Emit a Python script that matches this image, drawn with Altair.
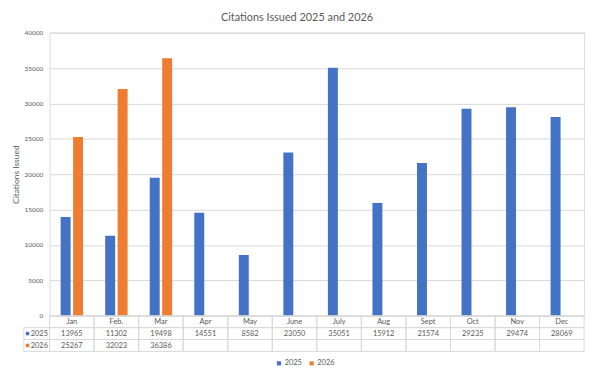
import altair as alt
import pandas as pd

months = ["Jan", "Feb.", "Mar", "Apr", "May", "June", "July", "Aug", "Sept", "Oct", "Nov", "Dec"]
years = ["2025", "2026"]
vals_2025 = [13965, 11302, 19498, 14551, 8582, 23050, 35051, 15912, 21574, 29235, 29474, 28069]
vals_2026 = [25267, 32023, 36386]
y_ticks = [0, 5000, 10000, 15000, 20000, 25000, 30000, 35000, 40000]

BLUE = "#4472C4"
ORANGE = "#ED7D31"
GRID = "#D9D9D9"
TXT = "#595959"
FONT = "Lato"

W, H = 540, 286
ROW = 12

rows = []
for m, v in zip(months, vals_2025):
    rows.append({"month": m, "year": "2025", "value": v})
for m, v in zip(months, vals_2026):
    rows.append({"month": m, "year": "2026", "value": v})
bars_df = pd.DataFrame(rows)

# table cells (one record per month per row, empty text where no value)
cells = []
for i, m in enumerate(months):
    cells.append({"month": m, "row": "m", "text": m})
    cells.append({"month": m, "row": "2025", "text": str(vals_2025[i])})
    cells.append({"month": m, "row": "2026", "text": str(vals_2026[i]) if i < len(vals_2026) else ""})
cells_df = pd.DataFrame(cells)

x_enc = alt.X("month:N", sort=months, axis=None,
              scale=alt.Scale(paddingInner=0, paddingOuter=0))
color_scale = alt.Scale(domain=years, range=[BLUE, ORANGE])

base_bars = alt.Chart(bars_df).mark_bar().encode(
    x=x_enc,
    xOffset=alt.XOffset("year:N", sort=years,
                        scale=alt.Scale(paddingInner=0.2, paddingOuter=0.89)),
    y=alt.Y("value:Q",
            scale=alt.Scale(domain=[0, 40000], nice=False),
            axis=alt.Axis(values=y_ticks, format="d", grid=True, gridColor=GRID,
                          domain=False, ticks=False, labelPadding=7,
                          labelFont=FONT, labelFontSize=6.5, labelColor=TXT,
                          title="Citations Issued", titleFont=FONT, titleFontSize=8.5,
                          titleFontWeight="normal", titleColor=TXT,
                          titleAngle=270, titleX=-34, titleY=H / 2,
                          titleAlign="center", titleBaseline="middle")),
    color=alt.Color("year:N", scale=color_scale,
                    legend=alt.Legend(title=None, orient="none", direction="horizontal",
                                      legendX=228, legendY=330, symbolType="square",
                                      symbolSize=18, labelFont=FONT, labelFontSize=7.5,
                                      labelColor=TXT, labelOffset=2, columnPadding=6,
                                      symbolStrokeWidth=0)),
)

layers = [base_bars]

row_tops = {"m": H, "2025": H + ROW, "2026": H + 2 * ROW}
for r, top in row_tops.items():
    sub = alt.Chart(cells_df).transform_filter(alt.datum.row == r)
    layers.append(sub.mark_rect(fill="white", fillOpacity=0, stroke=GRID, strokeWidth=1).encode(
        x=x_enc, y=alt.value(top), y2=alt.value(top + ROW)))
    layers.append(sub.mark_text(font=FONT, fontSize=7.5, color=TXT, baseline="middle").encode(
        x=x_enc, y=alt.value(top + ROW / 2 + 0.5), text="text:N"))

# left label column for the series rows
lab_df = pd.DataFrame({"year": years})
for yr in years:
    top = row_tops[yr]
    sub = alt.Chart(lab_df).transform_filter(alt.datum.year == yr)
    layers.append(sub.mark_rect(fillOpacity=0, stroke=GRID, strokeWidth=1).encode(
        x=alt.value(-26), x2=alt.value(0), y=alt.value(top), y2=alt.value(top + ROW)))
    layers.append(sub.mark_rect().encode(
        x=alt.value(-24), x2=alt.value(-20.5), y=alt.value(top + ROW / 2 - 1.75),
        y2=alt.value(top + ROW / 2 + 1.75),
        color=alt.Color("year:N", scale=color_scale, legend=None)))
    layers.append(sub.mark_text(font=FONT, fontSize=7.5, color=TXT, baseline="middle",
                                align="left").encode(
        x=alt.value(-19), y=alt.value(top + ROW / 2 + 0.5), text="year:N"))

chart = alt.layer(*layers).properties(
    width=W, height=H,
    title=alt.Title("Citations Issued 2025 and 2026", font=FONT, fontSize=11,
                    fontWeight="normal", color=TXT, anchor="middle", frame="group",
                    dx=-20, offset=7),
    autosize=alt.AutoSizeParams(type="none"),
    padding={"left": 42, "top": 23, "right": 8, "bottom": 60},
).configure_view(stroke=None).configure(background="white")

chart.save("out.html", embed_options={"renderer": "svg", "actions": False})
